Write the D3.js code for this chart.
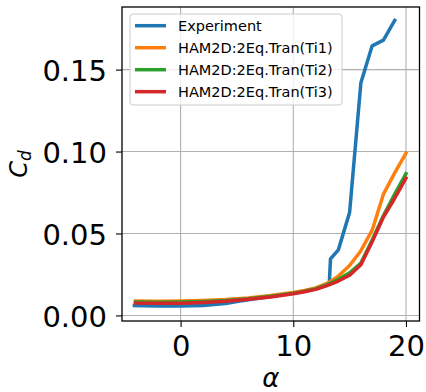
<!DOCTYPE html>
<html>
<head>
<meta charset="utf-8">
<script src="https://cdn.jsdelivr.net/npm/d3@7"></script>
<style>
  body { margin: 0; background: #fff; }
  text { font-family: "DejaVu Sans", sans-serif; }
</style>
</head>
<body>
<svg id="chart" width="426" height="392"></svg>
<script>
// angle of attack / drag coefficient
const alphaExp = [-4.1, -2.1, 0, 2, 4, 5, 6, 8, 10, 12, 13.2, 13.3, 14, 15, 16, 17, 18, 19];
const cdExp = [0.0060, 0.0058, 0.0058, 0.0061, 0.0072, 0.0085, 0.0096, 0.0115, 0.0136, 0.0162, 0.0200, 0.0345, 0.0400, 0.0630, 0.1420, 0.1645, 0.1680, 0.1800];

const alphaSim = [-4, -2, 0, 2, 4, 6, 8, 10, 11, 12, 13, 14, 15, 16, 17, 18, 19, 20];
const cdTi1 = [0.0088, 0.0087, 0.0088, 0.0091, 0.0097, 0.0107, 0.0121, 0.0140, 0.0152, 0.0168, 0.0195, 0.0240, 0.0305, 0.0395, 0.0520, 0.0740, 0.0870, 0.0990];
const cdTi2 = [0.0082, 0.0081, 0.0082, 0.0085, 0.0091, 0.0102, 0.0117, 0.0136, 0.0148, 0.0163, 0.0188, 0.0220, 0.0260, 0.0320, 0.0460, 0.0610, 0.0740, 0.0865];
const cdTi3 = [0.0075, 0.0074, 0.0075, 0.0079, 0.0086, 0.0098, 0.0113, 0.0132, 0.0144, 0.0159, 0.0182, 0.0210, 0.0245, 0.0310, 0.0450, 0.0600, 0.0715, 0.0837];

const seriesNames = ["Experiment", "HAM2D:2Eq.Tran(Ti1)", "HAM2D:2Eq.Tran(Ti2)", "HAM2D:2Eq.Tran(Ti3)"];
const seriesColors = ["#1f77b4", "#ff7f0e", "#2ca02c", "#d62728"];
const xTicks = [0, 10, 20];
const yTicks = [0, 0.05, 0.10, 0.15];

const series = [
  alphaExp.map((a, i) => [a, cdExp[i]]),
  alphaSim.map((a, i) => [a, cdTi1[i]]),
  alphaSim.map((a, i) => [a, cdTi2[i]]),
  alphaSim.map((a, i) => [a, cdTi3[i]])
];

const plotLeft = 122, plotRight = 419.5, plotTop = 7, plotBottom = 321;

const svg = d3.select("#chart");

const x = d3.scaleLinear().domain([-5.2, 21.2]).range([plotLeft, plotRight]);
const y = d3.scaleLinear().domain([-0.0034, 0.1882]).range([plotBottom, plotTop]);

// grid
svg.append("g").selectAll("line")
  .data(xTicks).enter().append("line")
  .attr("x1", d => x(d)).attr("x2", d => x(d))
  .attr("y1", plotTop).attr("y2", plotBottom)
  .attr("stroke", "#b0b0b0").attr("stroke-width", 1.1);
svg.append("g").selectAll("line")
  .data(yTicks).enter().append("line")
  .attr("x1", plotLeft).attr("x2", plotRight)
  .attr("y1", d => y(d)).attr("y2", d => y(d))
  .attr("stroke", "#b0b0b0").attr("stroke-width", 1.1);

// curves
const line = d3.line().x(d => x(d[0])).y(d => y(d[1]));
svg.append("g").selectAll("path")
  .data(series).enter().append("path")
  .attr("d", line)
  .attr("fill", "none")
  .attr("stroke", (d, i) => seriesColors[i])
  .attr("stroke-width", 3.5)
  .attr("stroke-linejoin", "round")
  .attr("stroke-linecap", "square");

// axes
const xAxis = svg.append("g")
  .attr("transform", `translate(0,${plotBottom})`)
  .call(d3.axisBottom(x).tickValues(xTicks).tickSize(6).tickFormat(d3.format("d")));
xAxis.selectAll("text").attr("y", 35).attr("dy", null)
  .attr("font-size", 29).attr("fill", "#000");

const yAxis = svg.append("g")
  .attr("transform", `translate(${plotLeft},0)`)
  .call(d3.axisLeft(y).tickValues(yTicks).tickSize(6).tickFormat(d3.format(".2f")));
yAxis.selectAll("text").attr("x", -15).attr("dy", "0.38em")
  .attr("font-size", 29).attr("fill", "#000");

[xAxis, yAxis].forEach(g => {
  g.select(".domain").remove();
  g.selectAll(".tick line").attr("stroke", "#000").attr("stroke-width", 1.1);
  g.attr("font-family", null);
});

// frame
svg.append("rect")
  .attr("x", plotLeft).attr("y", plotTop)
  .attr("width", plotRight - plotLeft).attr("height", plotBottom - plotTop)
  .attr("fill", "none").attr("stroke", "#000").attr("stroke-width", 1.3);

// axis labels
svg.append("text")
  .attr("x", (plotLeft + plotRight) / 2).attr("y", 387)
  .attr("text-anchor", "middle")
  .attr("font-size", 26).attr("font-style", "italic")
  .text("α");

const yl = svg.append("text")
  .attr("transform", "translate(27,164) rotate(-90)")
  .attr("text-anchor", "middle")
  .attr("font-size", 24).attr("font-style", "italic");
yl.append("tspan").text("C");
yl.append("tspan").attr("font-size", 17).attr("dy", 4).text("d");

// legend
const legend = svg.append("g");
legend.append("rect")
  .attr("x", 130).attr("y", 14).attr("width", 212).attr("height", 91)
  .attr("rx", 3)
  .attr("fill", "#fff").attr("fill-opacity", 0.8)
  .attr("stroke", "#cccccc").attr("stroke-width", 1);

const rowY = d3.scalePoint().domain(seriesNames).range([25.7, 91.7]);
const rows = legend.selectAll(".row")
  .data(seriesNames).enter().append("g")
  .attr("class", "row")
  .attr("transform", d => `translate(0,${rowY(d)})`);
rows.append("line")
  .attr("x1", 135).attr("x2", 166)
  .attr("stroke", (d, i) => seriesColors[i])
  .attr("stroke-width", 3.5)
  .attr("stroke-linecap", "butt");
rows.append("text")
  .attr("x", 178).attr("dy", "0.36em")
  .attr("font-size", 14.5)
  .attr("fill", "#000")
  .text(d => d);
</script>
</body>
</html>
